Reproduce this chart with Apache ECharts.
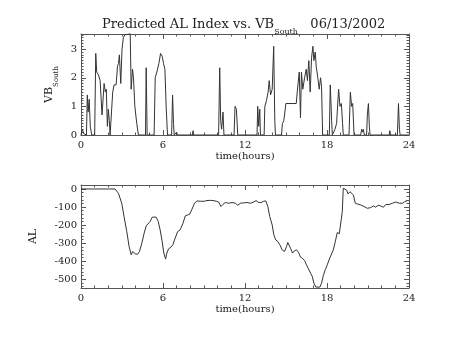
<!DOCTYPE html>
<html><head><meta charset="utf-8">
<script src="https://cdn.jsdelivr.net/npm/echarts@6/dist/echarts.min.js"></script>
<style>html,body{margin:0;padding:0;background:#fff}#c{width:453px;height:340px}</style>
</head><body><div id="c"></div>
<script>
// ---- Data ----
var titleMain = 'Predicted AL Index vs. VB';
var titleSub = 'South';
var titleDate = '06/13/2002';
var xTitle = 'time(hours)';
var xTicks = [0, 6, 12, 18, 24];
var vbTicks = [0, 1, 2, 3];
var alTicks = [-500, -400, -300, -200, -100, 0];

var vbTime = [0,0.1,0.2,0.3,0.4,0.46,0.52,0.6,0.68,0.78,1.0,1.08,1.15,1.28,1.4,1.54,1.69,1.78,1.85,1.93,2.0,2.07,2.13,2.27,2.32,2.42,2.57,2.67,2.74,2.81,2.91,3.0,3.1,3.2,3.3,3.4,3.5,3.6,3.67,3.77,3.84,3.94,4.08,4.2,4.72,4.77,4.84,5.35,5.43,5.55,5.7,5.82,5.94,6.04,6.14,6.23,6.33,6.63,6.7,6.77,6.82,6.95,7.0,7.05,8.15,8.2,8.25,10.07,10.15,10.22,10.29,10.39,10.46,11.2,11.27,11.37,11.47,12.88,12.93,13.0,13.08,13.13,13.4,13.45,13.57,13.69,13.77,13.87,13.99,14.1,14.18,14.23,14.67,14.74,14.84,14.99,15.75,15.82,15.97,16.06,16.13,16.23,16.36,16.48,16.57,16.67,16.77,16.87,16.97,17.04,17.14,17.21,17.33,17.43,17.53,17.6,17.68,18.17,18.24,18.34,18.39,18.5,18.58,18.7,18.85,18.95,19.05,19.14,19.19,19.61,19.71,19.8,19.88,19.98,20.46,20.54,20.6,20.66,20.73,20.9,20.95,21.03,21.1,21.15,22.55,22.6,22.65,23.15,23.23,23.3,23.35,24];
var vbValue = [0,0.2,0.05,0,0,1.4,0.8,1.25,0.3,0,0,2.85,2.2,2.1,1.9,0.7,1.8,1.5,1.6,0.3,0.9,0.5,0,0,1.5,1.75,1.75,2.4,2.5,2.8,1.8,3.0,3.4,3.5,3.55,3.52,3.48,3.55,1.6,2.3,2.0,1.0,0.4,0,0,2.35,0,0,2.0,2.2,2.5,2.85,2.75,2.5,2.3,1.0,0,0,1.4,0.4,0,0,0.1,0,0,0.15,0,0,2.35,0.5,0.2,0.8,0,0,1.0,0.9,0,0,1.0,0.3,0.9,0,0,1.0,1.2,1.5,1.9,1.4,1.6,3.1,0.5,0,0,0.4,0.5,1.1,1.1,1.5,2.2,0.6,2.2,1.6,2.0,2.3,1.9,2.6,1.5,2.7,3.1,2.6,2.9,2.4,2.0,1.6,2.0,1.7,0,0,1.75,0.5,0,0,0.2,0.4,1.6,1.0,1.1,0.4,0,0,1.5,1.0,1.1,0,0,0.2,0.1,0.2,0,0,0.7,1.1,0.3,0,0,0.15,0,0,1.1,0.2,0,0];

var alTime = [0,1.0,2.0,2.49,2.74,2.98,3.15,3.35,3.52,3.67,3.79,3.96,4.13,4.28,4.45,4.62,4.77,4.91,5.06,5.21,5.35,5.5,5.65,5.79,5.94,6.06,6.19,6.28,6.41,6.58,6.72,6.89,7.07,7.26,7.46,7.63,7.8,7.95,8.12,8.31,8.48,8.73,9.02,9.22,9.46,9.66,9.9,10.07,10.24,10.39,10.56,10.81,11.05,11.3,11.47,11.66,11.91,12.15,12.4,12.64,12.81,13.0,13.18,13.37,13.52,13.67,13.81,13.99,14.11,14.25,14.4,14.55,14.72,14.89,15.04,15.13,15.23,15.33,15.48,15.62,15.77,15.92,16.06,16.21,16.36,16.5,16.65,16.8,16.92,17.04,17.19,17.33,17.48,17.6,17.73,17.87,18.02,18.17,18.31,18.46,18.61,18.75,18.9,19.0,19.12,19.19,19.32,19.44,19.54,19.68,19.78,19.93,20.07,20.22,20.46,20.71,20.95,21.2,21.39,21.56,21.74,21.93,22.13,22.3,22.54,22.79,23.03,23.28,23.52,23.69,23.89];
var alValue = [0,0,0,0,-24,-79,-153,-236,-318,-364,-346,-359,-362,-346,-300,-245,-204,-208,-180,-156,-149,-156,-180,-226,-291,-355,-388,-355,-331,-322,-309,-272,-236,-226,-190,-149,-144,-140,-112,-79,-66,-68,-68,-64,-63,-64,-68,-72,-97,-85,-75,-79,-75,-79,-90,-79,-77,-75,-79,-72,-64,-75,-75,-68,-66,-97,-153,-199,-254,-282,-291,-309,-337,-346,-318,-296,-304,-328,-355,-342,-337,-351,-377,-384,-396,-420,-443,-466,-484,-521,-543,-539,-543,-521,-480,-447,-420,-388,-377,-337,-291,-241,-248,-254,-125,4,9,-6,-28,-15,-6,-33,-79,-83,-88,-97,-107,-103,-94,-101,-90,-94,-101,-86,-86,-79,-72,-79,-79,-70,-64];

// ---- Helpers ----
function zip(a, b) { var r = []; for (var i = 0; i < a.length; i++) r.push([a[i], b[i]]); return r; }
function range(a, b, s) { var r = []; for (var v = a; v <= b + 1e-9; v += s) r.push(+v.toFixed(4)); return r; }

var FONT = 'DejaVu Serif';
var TXT = '#222';
var LINE = '#555';
var vbRange = [0, 3.53];
var alRange = [-548, 22];

function xAx(grid, pos, labels, name) {
  return {
    type: 'value', gridIndex: grid, position: pos, min: 0, max: 24, interval: 6,
    axisLine: { show: true, onZero: false, lineStyle: { color: LINE, width: 1 } },
    axisTick: { show: true, inside: true, length: 5, lineStyle: { color: LINE } },
    minorTick: { show: true, splitNumber: 6, length: 2.5, lineStyle: { color: LINE } },
    splitLine: { show: false }, minorSplitLine: { show: false },
    axisLabel: { show: labels, margin: 5, fontFamily: FONT, fontSize: 10, color: TXT },
    name: name || '', nameLocation: 'middle', nameGap: 16,
    nameTextStyle: { fontFamily: FONT, fontSize: 10, color: TXT }
  };
}
function yAx(grid, pos, rng, ticks, len, labels, name, gap, showLine) {
  return {
    type: 'value', gridIndex: grid, position: pos, min: rng[0], max: rng[1],
    axisLine: { show: showLine, onZero: false, lineStyle: { color: LINE, width: 1 } },
    axisTick: { show: true, inside: true, length: len, customValues: ticks, lineStyle: { color: LINE } },
    splitLine: { show: false },
    axisLabel: { show: labels, customValues: ticks, margin: 4, fontFamily: FONT, fontSize: 10, color: TXT },
    name: name || '', nameLocation: 'middle', nameGap: gap || 0, nameRotate: 90,
    nameTextStyle: { fontFamily: FONT, color: TXT, rich: {
      m: { fontFamily: FONT, fontSize: 11, color: TXT, fontWeight: 'normal', lineHeight: 16, verticalAlign: 'top' },
      s: { fontFamily: FONT, fontSize: 7, color: TXT, fontWeight: 'normal', lineHeight: 16, verticalAlign: 'bottom' }
    } }
  };
}

var vbMinor = range(0, 3.5, 0.1);
var alMinor = range(-540, 20, 20);

var option = {
  animation: false,
  backgroundColor: '#fff',
  title: {
    text: '{m|' + titleMain + '}{s|' + titleSub + '}{m|   ' + titleDate + '}',
    left: 102, top: 18, padding: 0,
    textStyle: { fontWeight: 'normal', rich: {
      m: { fontFamily: FONT, fontSize: 13, color: TXT, fontWeight: 'normal', lineHeight: 18, verticalAlign: 'top' },
      s: { fontFamily: FONT, fontSize: 8, color: TXT, fontWeight: 'normal', lineHeight: 18, verticalAlign: 'bottom' }
    } }
  },
  grid: [
    { left: 81, right: 44, top: 34, height: 101 },
    { left: 81, right: 44, top: 185, height: 103 }
  ],
  xAxis: [
    xAx(0, 'bottom', true, xTitle),
    xAx(0, 'top', false),
    xAx(1, 'bottom', true, xTitle),
    xAx(1, 'top', false)
  ],
  yAxis: [
    yAx(0, 'left', vbRange, vbTicks, 5, true, '{m|VB}{s|South}', 11, true),
    yAx(0, 'left', vbRange, vbMinor, 2.5, false, '', 0, false),
    yAx(0, 'right', vbRange, vbTicks, 5, false, '', 0, true),
    yAx(0, 'right', vbRange, vbMinor, 2.5, false, '', 0, false),
    yAx(1, 'left', alRange, alTicks, 5, true, '{m|AL}', 37, true),
    yAx(1, 'left', alRange, alMinor, 2.5, false, '', 0, false),
    yAx(1, 'right', alRange, alTicks, 5, false, '', 0, true),
    yAx(1, 'right', alRange, alMinor, 2.5, false, '', 0, false)
  ],
  series: [
    { type: 'line', xAxisIndex: 0, yAxisIndex: 0, data: zip(vbTime, vbValue), showSymbol: false, symbol: 'none',
      lineStyle: { color: '#333', width: 1 }, clip: true },
    { type: 'line', xAxisIndex: 2, yAxisIndex: 4, data: zip(alTime, alValue), showSymbol: false, symbol: 'none',
      lineStyle: { color: '#333', width: 1 }, clip: true }
  ]
};
var chart = echarts.init(document.getElementById('c'), null, { renderer: 'canvas' });
chart.setOption(option);
</script></body></html>
